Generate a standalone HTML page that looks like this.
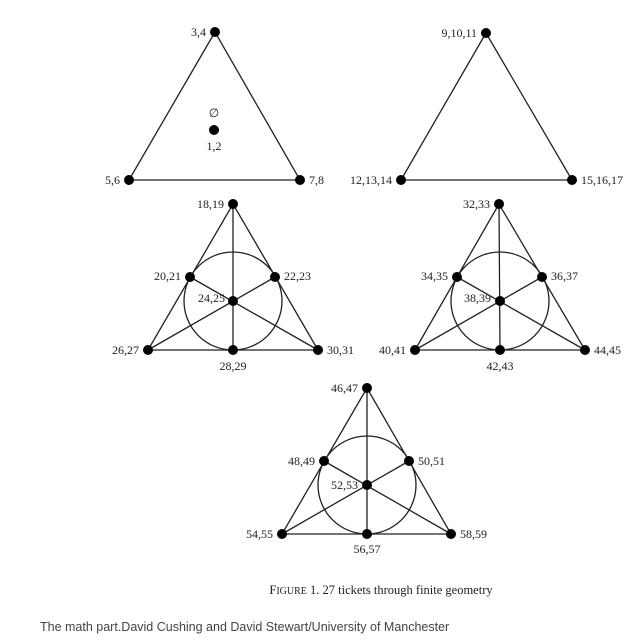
<!DOCTYPE html>
<html><head><meta charset="utf-8"><style>
html,body{margin:0;padding:0;background:#fff;width:641px;height:641px;overflow:hidden}
svg{display:block}
.t{font-family:"Liberation Serif",serif;font-size:12px;fill:#222}
.s{font-family:"Liberation Sans",sans-serif;font-size:12.5px;fill:#444}
</style></head><body>
<svg width="641" height="641" viewBox="0 0 641 641" xmlns="http://www.w3.org/2000/svg">
<g stroke="#222" stroke-width="1.3" fill="none">
<polygon points="215,32 129,180 300,180"/>
<polygon points="486,33 401,180 572,180"/>
<polygon points="233,204 148,350 318,350"/>
<line x1="233" y1="204" x2="233" y2="350"/><line x1="148" y1="350" x2="275" y2="277"/><line x1="318" y1="350" x2="190" y2="277"/>
<circle cx="233" cy="301" r="49"/>
<polygon points="499,204 415,350 585,350"/>
<line x1="499" y1="204" x2="500" y2="350"/><line x1="415" y1="350" x2="542" y2="277"/><line x1="585" y1="350" x2="457" y2="277"/>
<circle cx="500" cy="301" r="49"/>
<polygon points="367,388 282,534 451,534"/>
<line x1="367" y1="388" x2="367" y2="534"/><line x1="282" y1="534" x2="409" y2="461"/><line x1="451" y1="534" x2="324" y2="461"/>
<circle cx="367" cy="485" r="49"/>
</g>
<g fill="#000">
<circle cx="215" cy="32" r="5"/><circle cx="129" cy="180" r="5"/><circle cx="300" cy="180" r="5"/><circle cx="214" cy="130" r="5"/>
<circle cx="486" cy="33" r="5"/><circle cx="401" cy="180" r="5"/><circle cx="572" cy="180" r="5"/>
<circle cx="233" cy="204" r="5"/><circle cx="148" cy="350" r="5"/><circle cx="318" cy="350" r="5"/><circle cx="190" cy="277" r="5"/><circle cx="275" cy="277" r="5"/><circle cx="233" cy="350" r="5"/><circle cx="233" cy="301" r="5"/>
<circle cx="499" cy="204" r="5"/><circle cx="415" cy="350" r="5"/><circle cx="585" cy="350" r="5"/><circle cx="457" cy="277" r="5"/><circle cx="542" cy="277" r="5"/><circle cx="500" cy="350" r="5"/><circle cx="500" cy="301" r="5"/>
<circle cx="367" cy="388" r="5"/><circle cx="282" cy="534" r="5"/><circle cx="451" cy="534" r="5"/><circle cx="324" cy="461" r="5"/><circle cx="409" cy="461" r="5"/><circle cx="367" cy="534" r="5"/><circle cx="367" cy="485" r="5"/>
</g>
<g class="t">
<text x="206" y="36" text-anchor="end">3,4</text>
<text x="214" y="117" text-anchor="middle">∅</text>
<text x="214" y="150" text-anchor="middle">1,2</text>
<text x="120" y="184" text-anchor="end">5,6</text>
<text x="309" y="184">7,8</text>
<text x="477" y="37" text-anchor="end">9,10,11</text>
<text x="392" y="184" text-anchor="end">12,13,14</text>
<text x="581" y="184">15,16,17</text>
<text x="224" y="208" text-anchor="end">18,19</text>
<text x="181" y="280" text-anchor="end">20,21</text>
<text x="284" y="280">22,23</text>
<text x="225" y="302" text-anchor="end">24,25</text>
<text x="139" y="354" text-anchor="end">26,27</text>
<text x="233" y="370" text-anchor="middle">28,29</text>
<text x="327" y="354">30,31</text>
<text x="490" y="208" text-anchor="end">32,33</text>
<text x="448" y="280" text-anchor="end">34,35</text>
<text x="551" y="280">36,37</text>
<text x="491" y="302" text-anchor="end">38,39</text>
<text x="406" y="354" text-anchor="end">40,41</text>
<text x="500" y="370" text-anchor="middle">42,43</text>
<text x="594" y="354">44,45</text>
<text x="358" y="392" text-anchor="end">46,47</text>
<text x="315" y="465" text-anchor="end">48,49</text>
<text x="418" y="465">50,51</text>
<text x="358" y="489" text-anchor="end">52,53</text>
<text x="273" y="538" text-anchor="end">54,55</text>
<text x="367" y="553" text-anchor="middle">56,57</text>
<text x="460" y="538">58,59</text>
<text x="381" y="594" text-anchor="middle" font-size="12.5">F<tspan font-size="10">IGURE</tspan> 1.  27 tickets through finite geometry</text>
</g>
<text class="s" x="40" y="631">The math part.David Cushing and David Stewart/University of Manchester</text>
</svg>
</body></html>
